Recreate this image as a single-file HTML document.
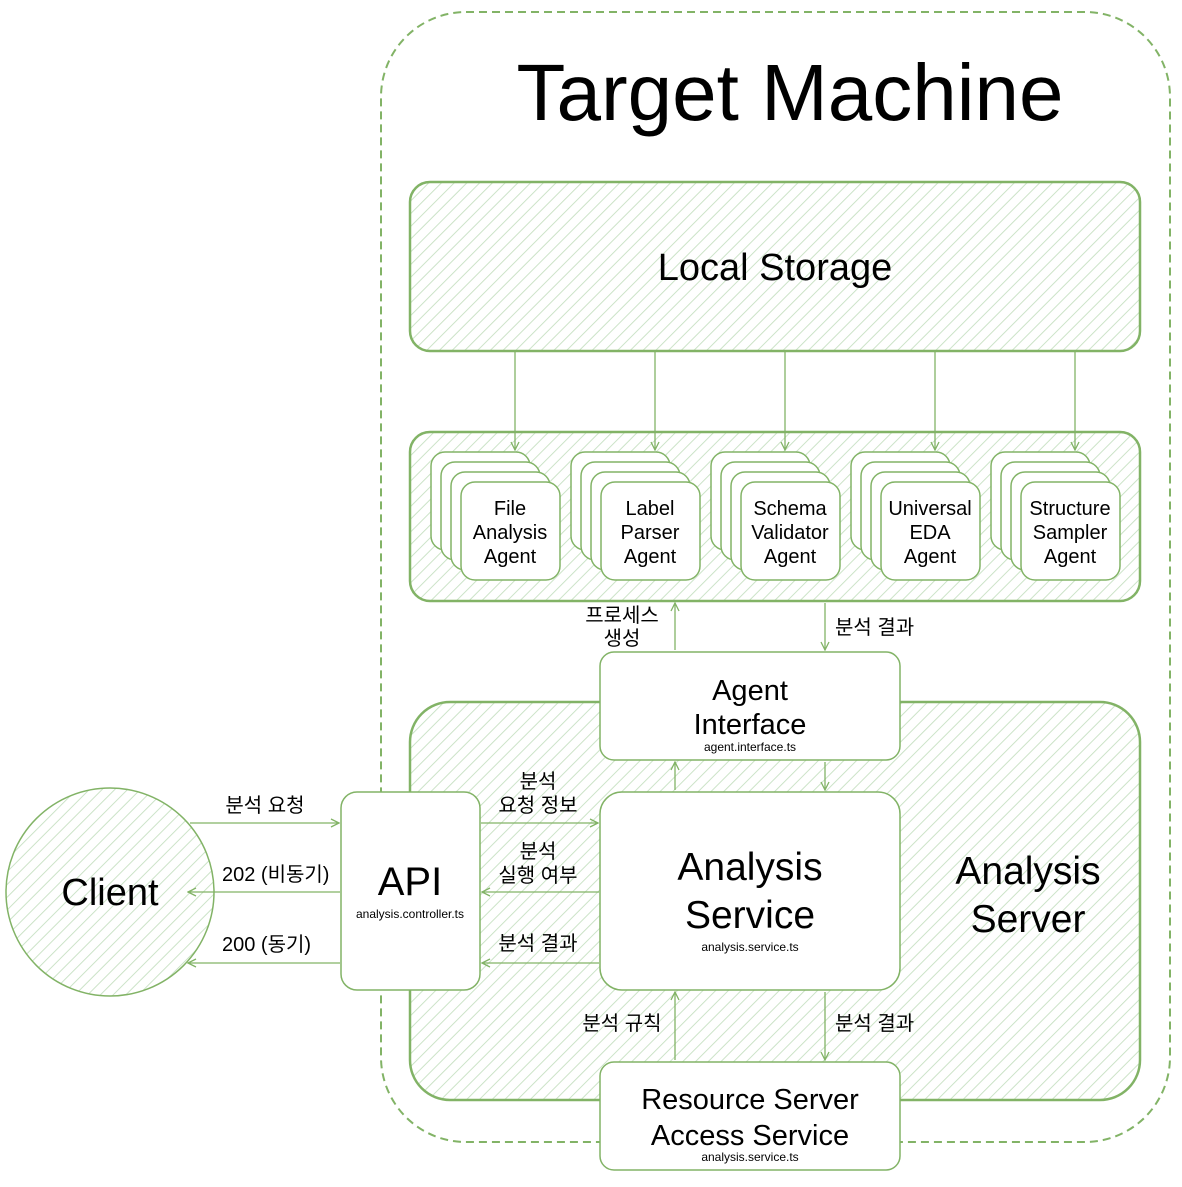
<!DOCTYPE html>
<html><head><meta charset="utf-8"><style>
html,body{margin:0;padding:0;background:#fff;}
text{font-family:"Liberation Sans","Noto Sans CJK KR",sans-serif;fill:#000;}
</style></head><body>
<svg width="1182" height="1182" viewBox="0 0 1182 1182" xmlns="http://www.w3.org/2000/svg">
<defs>
<pattern id="h" patternUnits="userSpaceOnUse" width="9" height="9" patternTransform="rotate(45)">
<line x1="0" y1="0" x2="0" y2="9" stroke="#c6e0c2" stroke-width="1.8"/>
</pattern>
<marker id="a" markerWidth="10" markerHeight="10" refX="9" refY="5" orient="auto" markerUnits="userSpaceOnUse">
<path d="M1,1 L9,5 L1,9" fill="none" stroke="#82b366" stroke-width="1.3"/>
</marker>
</defs>
<rect x="381" y="12" width="789" height="1130" rx="85" fill="none" stroke="#82b366" stroke-width="2" stroke-dasharray="8,5"/>
<text x="790" y="120" font-size="80" text-anchor="middle">Target Machine</text>

<rect x="410" y="182" width="730" height="169" rx="20" fill="url(#h)" stroke="#82b366" stroke-width="2.5"/>
<text x="775" y="280" font-size="38" text-anchor="middle">Local Storage</text>

<rect x="410" y="432" width="730" height="169" rx="20" fill="url(#h)" stroke="#82b366" stroke-width="2.5"/>

<g fill="#fff" stroke="#82b366" stroke-width="1.5">
<g id="s">
<rect x="431" y="452" width="99" height="98" rx="14"/>
<rect x="441" y="462" width="99" height="98" rx="14"/>
<rect x="451" y="472" width="99" height="98" rx="14"/>
<rect x="461" y="482" width="99" height="98" rx="14"/>
</g>
<use href="#s" x="140"/><use href="#s" x="280"/><use href="#s" x="420"/><use href="#s" x="560"/>
</g>
<g font-size="20" text-anchor="middle">
<text x="510" y="515">File</text><text x="510" y="539">Analysis</text><text x="510" y="563">Agent</text>
<text x="650" y="515">Label</text><text x="650" y="539">Parser</text><text x="650" y="563">Agent</text>
<text x="790" y="515">Schema</text><text x="790" y="539">Validator</text><text x="790" y="563">Agent</text>
<text x="930" y="515">Universal</text><text x="930" y="539">EDA</text><text x="930" y="563">Agent</text>
<text x="1070" y="515">Structure</text><text x="1070" y="539">Sampler</text><text x="1070" y="563">Agent</text>
</g>

<g stroke="#82b366" stroke-width="1.3" fill="none" marker-end="url(#a)">
<line x1="515" y1="352" x2="515" y2="450"/>
<line x1="655" y1="352" x2="655" y2="450"/>
<line x1="785" y1="352" x2="785" y2="450"/>
<line x1="935" y1="352" x2="935" y2="450"/>
<line x1="1075" y1="352" x2="1075" y2="450"/>
</g>

<rect x="410" y="702" width="730" height="398" rx="40" fill="url(#h)" stroke="#82b366" stroke-width="2.5"/>
<text x="1028" y="884" font-size="39" text-anchor="middle">Analysis</text>
<text x="1028" y="932" font-size="39" text-anchor="middle">Server</text>

<circle cx="110" cy="892" r="104" fill="url(#h)" stroke="#82b366" stroke-width="1.5"/>
<text x="110" y="905" font-size="38" text-anchor="middle">Client</text>

<g fill="#fff" stroke="#82b366" stroke-width="1.5">
<rect x="600" y="652" width="300" height="108" rx="14"/>
<rect x="600" y="792" width="300" height="198" rx="22"/>
<rect x="341" y="792" width="139" height="198" rx="16"/>
<rect x="600" y="1062" width="300" height="108" rx="14"/>
</g>
<text x="750" y="700" font-size="29" text-anchor="middle">Agent</text>
<text x="750" y="734" font-size="29" text-anchor="middle">Interface</text>
<text x="750" y="751" font-size="12" text-anchor="middle">agent.interface.ts</text>
<text x="750" y="880" font-size="39" text-anchor="middle">Analysis</text>
<text x="750" y="928" font-size="39" text-anchor="middle">Service</text>
<text x="750" y="951" font-size="12" text-anchor="middle">analysis.service.ts</text>
<text x="410" y="895" font-size="40" text-anchor="middle">API</text>
<text x="410" y="918" font-size="12" text-anchor="middle">analysis.controller.ts</text>
<text x="750" y="1109" font-size="29" text-anchor="middle">Resource Server</text>
<text x="750" y="1145" font-size="29" text-anchor="middle">Access Service</text>
<text x="750" y="1161" font-size="12" text-anchor="middle">analysis.service.ts</text>

<g stroke="#82b366" stroke-width="1.3" fill="none" marker-end="url(#a)">
<line x1="675" y1="650" x2="675" y2="603"/>
<line x1="825" y1="603" x2="825" y2="650"/>
<line x1="675" y1="790" x2="675" y2="762"/>
<line x1="825" y1="762" x2="825" y2="790"/>
<line x1="481" y1="823" x2="598" y2="823"/>
<line x1="599" y1="892" x2="482" y2="892"/>
<line x1="599" y1="963" x2="482" y2="963"/>
<line x1="190" y1="823" x2="339" y2="823"/>
<line x1="340" y1="892" x2="188" y2="892"/>
<line x1="340" y1="963" x2="188" y2="963"/>
<line x1="675" y1="1060" x2="675" y2="992"/>
<line x1="825" y1="992" x2="825" y2="1060"/>
</g>

<g font-size="20">
<text x="622" y="622" text-anchor="middle">프로세스</text>
<text x="622" y="645" text-anchor="middle">생성</text>
<text x="835" y="634">분석 결과</text>
<text x="538" y="788" text-anchor="middle">분석</text>
<text x="538" y="812" text-anchor="middle">요청 정보</text>
<text x="538" y="858" text-anchor="middle">분석</text>
<text x="538" y="882" text-anchor="middle">실행 여부</text>
<text x="538" y="950" text-anchor="middle">분석 결과</text>
<text x="265" y="812" text-anchor="middle">분석 요청</text>
<text x="222" y="881">202 (비동기)</text>
<text x="222" y="951">200 (동기)</text>
<text x="622" y="1030" text-anchor="middle">분석 규칙</text>
<text x="835" y="1030">분석 결과</text>
</g>
</svg>
</body></html>
